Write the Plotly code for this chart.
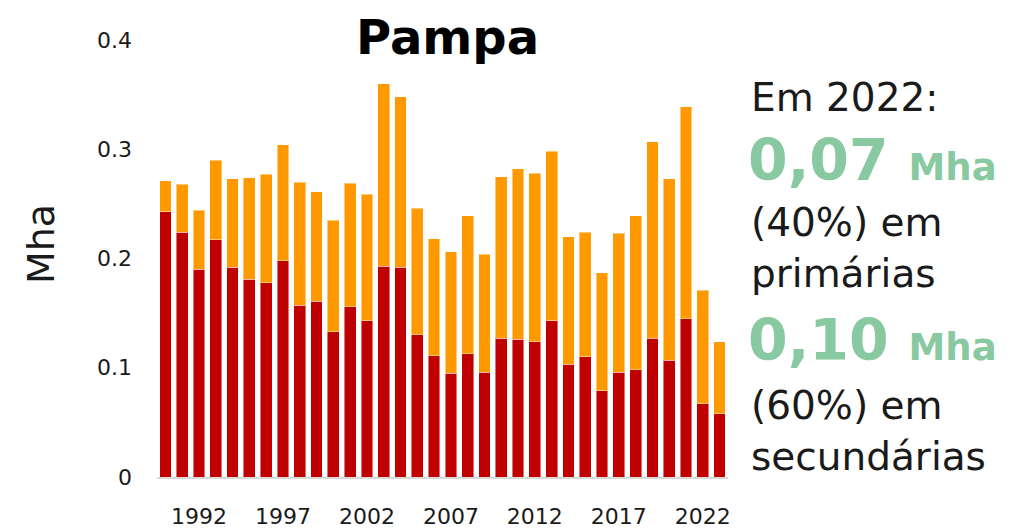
import plotly.graph_objects as go

years = list(range(1990, 2024))
total = [0.271, 0.268, 0.244, 0.290, 0.273, 0.274, 0.277, 0.304, 0.270, 0.261,
         0.235, 0.269, 0.259, 0.360, 0.348, 0.246, 0.218, 0.206, 0.239, 0.204,
         0.275, 0.282, 0.278, 0.298, 0.220, 0.224, 0.187, 0.223, 0.239, 0.307,
         0.273, 0.339, 0.171, 0.124]
primarias = [0.243, 0.224, 0.190, 0.217, 0.192, 0.181, 0.178, 0.198, 0.157, 0.161,
             0.133, 0.156, 0.143, 0.193, 0.192, 0.130, 0.111, 0.095, 0.113, 0.096,
             0.127, 0.126, 0.124, 0.143, 0.103, 0.110, 0.079, 0.096, 0.098, 0.127,
             0.107, 0.145, 0.067, 0.058]
secundarias = [round(t - p, 3) for t, p in zip(total, primarias)]

tick_years = [1992, 1997, 2002, 2007, 2012, 2017, 2022]
y_ticks = [0, 0.1, 0.2, 0.3, 0.4]
y_ticktext = ["0", "0.1", "0.2", "0.3", "0.4"]

FONT = "DejaVu Sans"
RED = "#C00000"
ORANGE = "#FF9900"
GREEN = "#88C9A1"
TXT = "#1a1a1a"

fig = go.Figure()
fig.add_trace(go.Bar(x=years, y=primarias, name="primárias",
                     marker=dict(color=RED, line=dict(color="rgba(255,255,255,0.45)", width=1))))
fig.add_trace(go.Bar(x=years, y=secundarias, name="secundárias",
                     marker=dict(color=ORANGE, line=dict(color="rgba(255,255,255,0.45)", width=1))))

# page body has an 8px margin: work in reference pixels, shifted by OFF
OFF = 8
W, H = 1015 - OFF, 531 - OFF
L, T = 157 - OFF, 40 - OFF
R = W - (728 - OFF)
B = H - (477 - OFF)
pw, ph = W - L - R, H - T - B

def px(x):
    return (x - OFF - L) / pw

def py(y):
    return (H - B - (y - OFF)) / ph

fig.update_layout(
    width=W, height=H,
    margin=dict(l=L, r=R, t=T, b=B, autoexpand=False),
    barmode="stack", bargap=0.3,
    plot_bgcolor="white", paper_bgcolor="white",
    showlegend=False,
    font=dict(family=FONT, color=TXT),
    xaxis=dict(range=[1989.5, 2023.5], tickvals=tick_years, ticktext=[str(y) for y in tick_years],
               tickfont=dict(size=22, color=TXT), showgrid=False, zeroline=False,
               showline=True, linecolor="#D9D9D9", linewidth=2, ticks="",
               ticklabelstandoff=19, automargin=False),
    yaxis=dict(range=[0, 0.4], tickvals=y_ticks, ticktext=y_ticktext,
               tickfont=dict(size=22, color=TXT), showgrid=False, zeroline=False,
               showline=False, ticks="", ticklabelstandoff=24, automargin=False),
)

ann = [
    dict(text="<b>Pampa</b>", x=px(447), y=py(37), size=48, color="black", xanchor="center"),
    dict(text="Em 2022:", x=px(749), y=py(97), size=39, color=TXT, xanchor="left"),
    dict(text="<b>0,07 <span style='font-size:37px'>Mha</span></b>", x=px(746), y=py(160), size=57, color=GREEN, xanchor="left"),
    dict(text="(40%) em<br>primárias", x=px(749), y=py(248), size=39, color=TXT, xanchor="left"),
    dict(text="<b>0,10 <span style='font-size:37px'>Mha</span></b>", x=px(746), y=py(340), size=57, color=GREEN, xanchor="left"),
    dict(text="(60%) em<br>secundárias", x=px(749), y=py(431), size=39, color=TXT, xanchor="left"),
]
for a in ann:
    fig.add_annotation(text=a["text"], x=a["x"], y=a["y"], xref="paper", yref="paper",
                       xanchor=a["xanchor"], yanchor="middle", align="left", showarrow=False,
                       font=dict(family=FONT, size=a["size"], color=a["color"]))

fig.add_annotation(text="Mha", x=px(41), y=py(244), xref="paper", yref="paper",
                   textangle=-90, showarrow=False, xanchor="center", yanchor="middle",
                   font=dict(family=FONT, size=38, color=TXT))

fig.write_html("out.html")
